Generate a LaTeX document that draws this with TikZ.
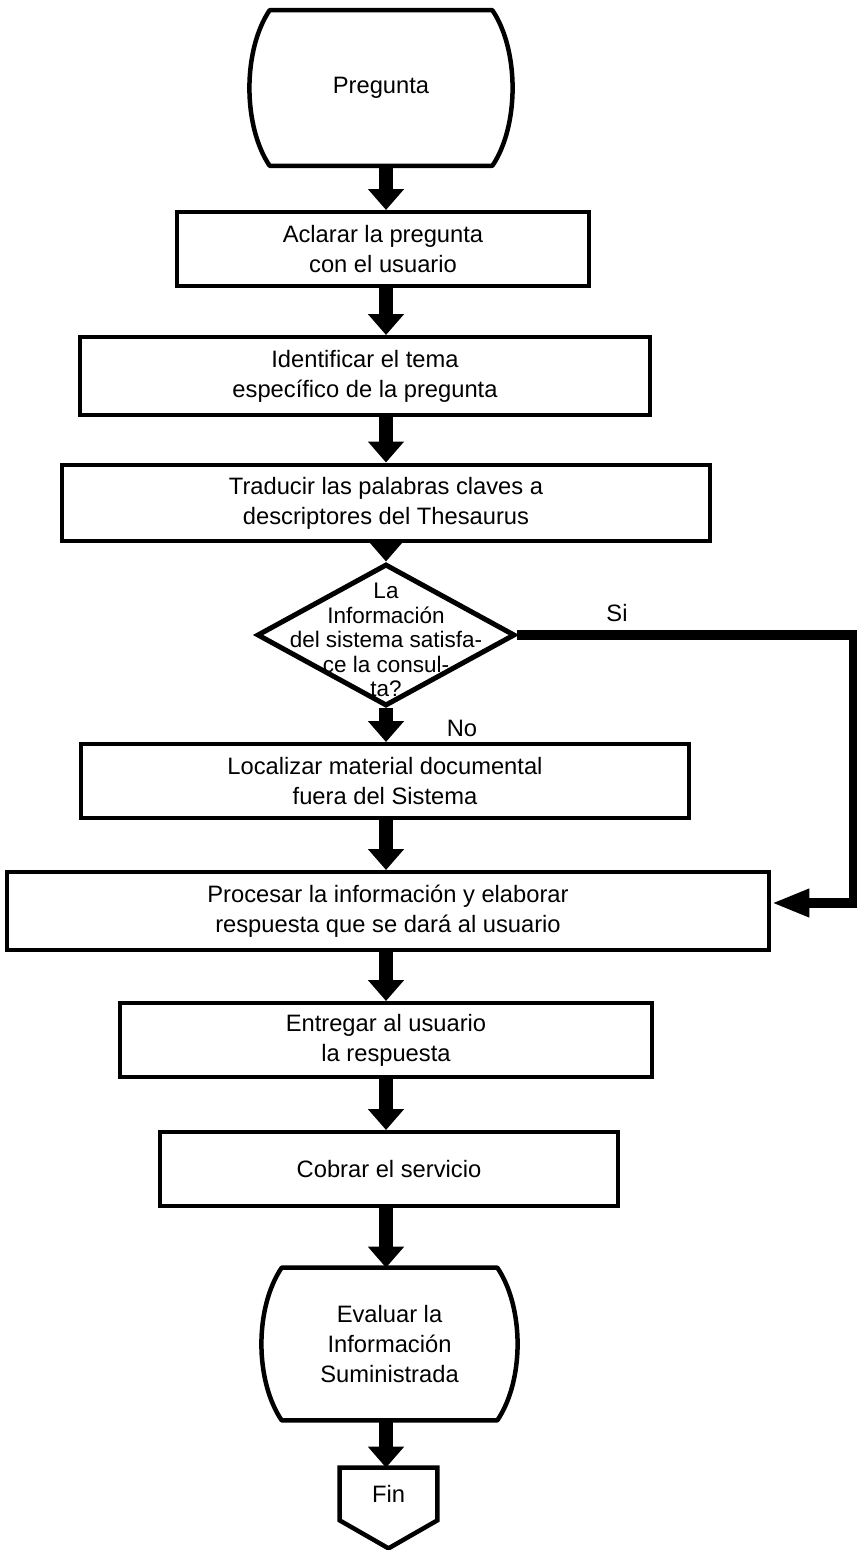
\documentclass[tikz,border=0pt]{standalone}
\usepackage{fontspec}
\setmainfont{Liberation Sans}
\usepackage{tikz}
\usetikzlibrary{shapes.geometric}
\usetikzlibrary{arrows.meta}
\usetikzlibrary{calc}

\begin{document}
\begin{tikzpicture}[x=0.02cm, y=-0.02cm, font=\fontsize{13.5}{17}\selectfont,
        box/.style={draw, line width=0.08cm, align=center, inner sep=0},
        outline/.style={line width=0.09cm, line join=round},
        flow/.style={line width=0.28cm, -{Triangle[length=0.42cm, width=0.7cm]}},
        backflow/.style={line width=0.2cm, -{Triangle[length=0.76cm, width=0.52cm]}}]
        \useasboundingbox (0,0) rectangle (857,1550);
        \coordinate (axis) at (386,0);
        \coordinate (rside) at (854,0);

        % terminales
        \node[minimum width=4.44cm, minimum height=3.1cm, align=center] (preg) at (381,88) {Pregunta};
        \node[minimum width=4.3cm, minimum height=3.04cm, align=center] (eval) at (389.5,1344) {Evaluar la\\Información\\Suministrada};
        \foreach \t in {preg, eval}
        {
            \draw[outline] (\t.north west) -- (\t.north east)
                .. controls +(27,40) and +(27,-40) .. (\t.south east) -- (\t.south west)
                .. controls +(-27,-40) and +(-27,40) .. (\t.north west) -- cycle;
        }
        \node[minimum width=1.94cm, minimum height=1.04cm] (fin) at (388.5,1494) {Fin};
        \draw[outline, line join=miter] (fin.north west) -- (fin.north east) -- (fin.south east)
            -- ($(fin.south)+(0,28)$) -- (fin.south west) -- cycle;

        % pasos
        \foreach \nm/\px/\py/\bw/\bh/\txt in {
            aclarar/383/249/8.24/1.48/{Aclarar la pregunta\\con el usuario},
            ident/365/376/11.42/1.56/{Identificar el tema\\específico de la pregunta},
            trad/386/503/12.96/1.54/{Traducir las palabras claves a\\descriptores del Thesaurus},
            local/385/781/12.16/1.48/{Localizar material documental\\fuera del Sistema},
            proc/388/911/15.26/1.56/{Procesar la información y elaborar\\respuesta que se dará al usuario},
            entreg/386/1040/10.64/1.48/{Entregar al usuario\\la respuesta},
            cobrar/389/1169/9.16/1.48/{Cobrar el servicio}}
        {
            \node[box, minimum width=\bw cm, minimum height=\bh cm] (\nm) at (\px,\py) {\txt};
        }

        % decision
        \node[draw, diamond, line width=0.1cm, minimum width=5.16cm, minimum height=2.84cm, inner sep=0] (dec) at (386,635) {};
        \node[align=center, font=\fontsize{12.8}{14}\selectfont] (dectxt) at (386,640) {La\\Información\\del sistema satisfa-\\ce la consul-\\ta?};
        \node (si) at (617,613) {Si};
        \node (no) at (462,728) {No};

        \foreach \a/\b in {preg/aclarar, aclarar/ident, ident/trad, trad/dec, dec/local, local/proc, proc/entreg, entreg/cobrar, cobrar/eval, eval/fin}
        {
            \draw[flow] (\a.south -| axis) -- (\b.north -| axis);
        }
        \draw[backflow] (dec.east) -- (dec.east -| rside) |- ($(proc.east)+(0,-8)$);
    \end{tikzpicture}
\end{document}
